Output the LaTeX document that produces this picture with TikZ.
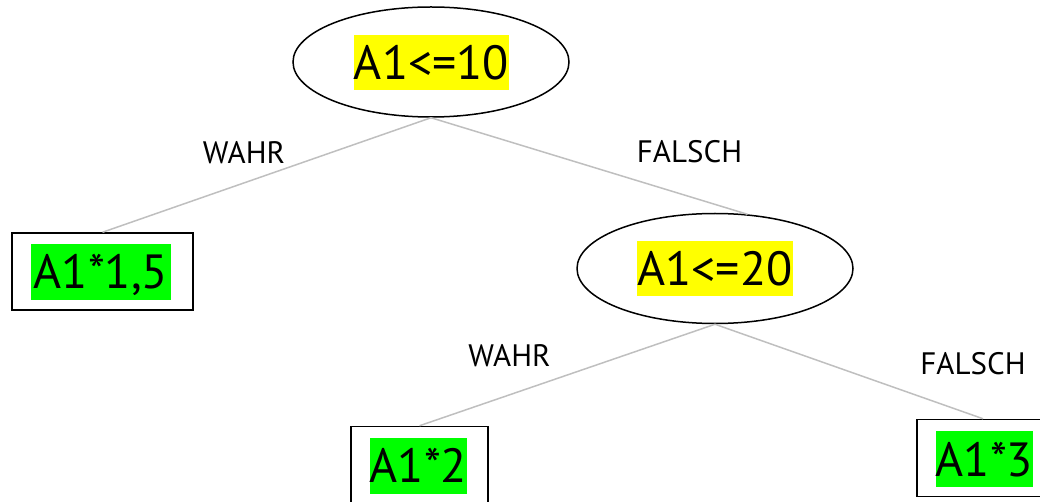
\documentclass[tikz,border=0pt]{standalone}
\usepackage{fontspec}
\setmainfont{PT Sans}
\usetikzlibrary{shapes.geometric}
\definecolor{hlyellow}{RGB}{255,255,0}
\definecolor{hlgreen}{RGB}{0,255,0}
\definecolor{edgegray}{RGB}{191,191,191}
\tikzset{
  decision/.style={draw=black, line width=1.5pt, ellipse, minimum width=276, minimum height=110, inner sep=0pt},
  leaf/.style={draw=black, line width=1.5pt, rectangle, minimum width=#1, minimum height=77, inner sep=0pt},
  big text/.style={inner sep=0pt, text height=34pt, text depth=0pt, font=\fontsize{48}{48}\selectfont},
  mark yellow/.style={big text, fill=hlyellow, minimum height=55, minimum width=#1},
  mark green/.style={big text, fill=hlgreen, minimum height=56, minimum width=#1},
  branch/.style={draw=edgegray, line width=1.5pt},
  answer/.style={inner sep=0pt, text height=21.7pt, text depth=0pt, font=\fontsize{31}{31}\selectfont},
}
\begin{document}
\begin{tikzpicture}[x=1pt, y=-1pt]
  \useasboundingbox (0,0) rectangle (1040,502);
  \clip (0,0) rectangle (1040,502);

  % decision nodes
  \node[decision] (d1) at (431,62) {};
  \node[decision] (d2) at (715,268.5) {};
  % leaves
  \node[leaf=181] (b1) at (102.5,271.5) {};
  \node[leaf=137] (b2) at (419.5,465) {};
  \node[leaf=132] (b3) at (983,458) {};

  % branches
  \draw[branch] (d1.south) -- (b1.north);
  \draw[branch] (d1.south) -- (d2.59);
  \draw[branch] (d2.south) -- (b2.north);
  \draw[branch] (d2.south) -- (b3.north);

  % highlighted texts
  \node[mark yellow=155] (t1) at (431.5,62.5) {A1<=10};
  \node[mark yellow=155] (t2) at (715,268.5) {A1<=20};
  \node[mark green=140] (t3) at (101,272) {A1*1,5};
  \node[mark green=97] (t4) at (418.5,465.5) {A1*2};
  \node[mark green=97] (t5) at (984.5,459) {A1*3};

  % branch labels
  \node[answer] (l1) at (244,153) {WAHR};
  \node[answer] (l2) at (689.5,151.5) {FALSCH};
  \node[answer] (l3) at (509.5,355.5) {WAHR};
  \node[answer] (l4) at (973,363.5) {FALSCH};
\end{tikzpicture}
\end{document}
